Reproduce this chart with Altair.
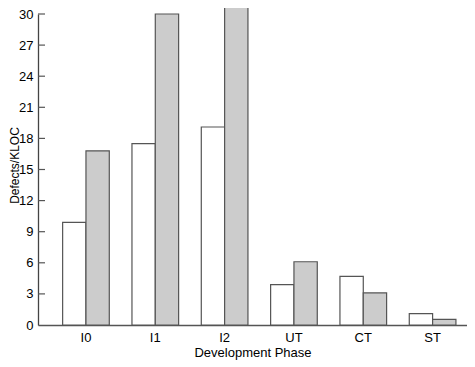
import altair as alt
import pandas as pd

phases = ["I0", "I1", "I2", "UT", "CT", "ST"]
series_a = [9.9, 17.5, 19.1, 3.9, 4.7, 1.1]
series_b = [16.8, 30.0, 30.7, 6.1, 3.1, 0.55]
series_names = ["Series A", "Series B"]
tick_values = [0, 3, 6, 9, 12, 15, 18, 21, 24, 27, 30]
inner_ticks = [3, 6, 9, 12, 15, 18, 21, 24, 27, 30]

rows = []
for p, a, b in zip(phases, series_a, series_b):
    rows.append({"phase": p, "series": series_names[0], "value": a})
    rows.append({"phase": p, "series": series_names[1], "value": b})
df = pd.DataFrame(rows)
tdf = pd.DataFrame({"t": inner_ticks})

FONT = "Liberation Sans"
yscale = alt.Scale(domain=[0, 30], nice=False, zero=True)
y_axis = alt.Axis(title="Defects/KLOC", values=tick_values, ticks=False,
                  grid=False, labelPadding=5, labelFontSize=13,
                  labelOverlap=False,
                  titleFontSize=12, titleFontWeight="normal",
                  labelColor="black", titleColor="black",
                  domainColor="#444444", domainWidth=1.3,
                  titleX=-24, titleY=151, titleBaseline="middle",
                  labelFont=FONT, titleFont=FONT)

bars = alt.Chart(df).mark_bar(stroke="#555555", strokeWidth=1.2).encode(
    x=alt.X("phase:N", sort=phases,
            scale=alt.Scale(paddingInner=0.327, paddingOuter=0.2575, align=0.69),
            axis=alt.Axis(title="Development Phase", labelAngle=0, ticks=False,
                          labelPadding=6, titlePadding=2, labelFontSize=13,
                          titleFontSize=13, titleFontWeight="normal",
                          labelColor="black", titleColor="black",
                          domainColor="#555555", domainWidth=1.6,
                          labelFont=FONT, titleFont=FONT)),
    xOffset=alt.XOffset("series:N", sort=series_names,
                        scale=alt.Scale(paddingInner=0, paddingOuter=0)),
    y=alt.Y("value:Q", scale=yscale, axis=y_axis),
    color=alt.Color("series:N", sort=series_names,
                    scale=alt.Scale(domain=series_names, range=["#ffffff", "#cccccc"]),
                    legend=None),
)

ticks = alt.Chart(tdf).mark_rule(color="#555555", strokeWidth=1.2).encode(
    y=alt.Y("t:Q", scale=yscale, axis=y_axis),
    x=alt.value(0),
    x2=alt.value(7),
)

chart = alt.layer(bars, ticks).properties(
    width=429, height=311,
    background="white",
    autosize=alt.AutoSizeParams(type="none"),
    padding={"left": 30, "top": 6, "right": 0, "bottom": 36},
).configure_view(stroke=None)

chart.save("out.html", embed_options={"renderer": "svg", "actions": False})
